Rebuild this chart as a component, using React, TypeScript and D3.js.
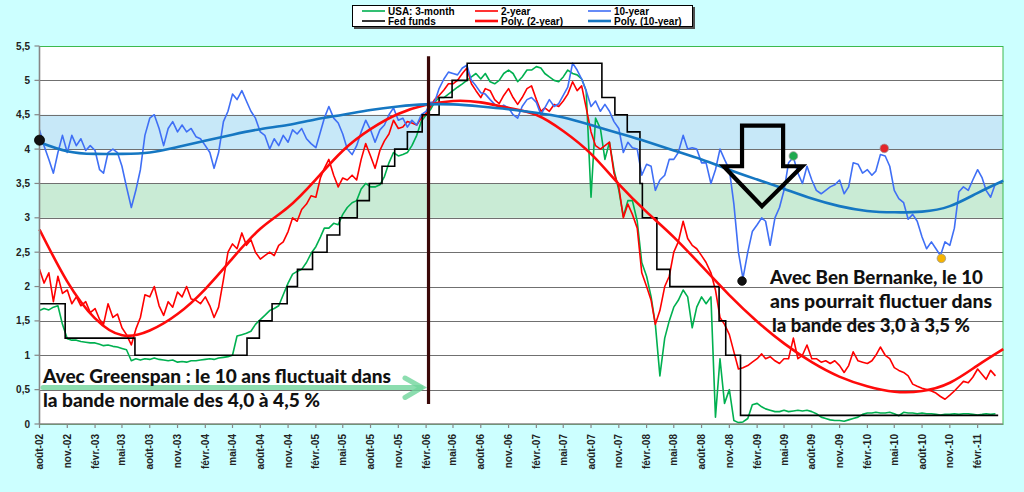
import React, { useRef, useEffect } from "react";
import * as d3 from "d3";

// Semi-monthly samples (1st and 16th of each month), starting août-02
const bill3m = [
  1.65, 1.68, 1.66, 1.7, 1.72, 1.45, 1.24, 1.22, 1.22, 1.2,
  1.19, 1.18, 1.18, 1.16, 1.14, 1.15, 1.13, 1.12, 1.1, 1.08,
  0.92, 0.95, 0.93, 0.95, 0.94, 0.96, 0.94, 0.93, 0.92, 0.93,
  0.9, 0.91, 0.9, 0.92, 0.92, 0.93, 0.94, 0.95, 0.94, 0.96,
  0.97, 0.98, 1.0, 1.28, 1.3, 1.32, 1.35, 1.45, 1.52, 1.58,
  1.65, 1.68, 1.72, 1.88, 2.05, 2.18, 2.22, 2.25, 2.35, 2.48,
  2.58, 2.72, 2.85, 2.85, 2.92, 2.9, 3.05, 3.15, 3.22, 3.25,
  3.42, 3.5, 3.45, 3.45, 3.48, 3.6, 3.8, 3.95, 3.9, 3.92,
  3.95, 4.05, 4.2, 4.4, 4.5, 4.58, 4.68, 4.75, 4.75, 4.8,
  4.85, 4.9, 4.95, 5.0, 5.05, 5.1, 5.02, 5.1, 4.98, 4.95,
  5.0, 5.1, 5.15, 5.1, 4.98, 5.05, 5.15, 5.15, 5.2, 5.18,
  5.1, 5.05, 5.0, 4.98, 5.05, 5.15, 5.1, 5.08, 5.02, 4.85,
  3.3, 4.45, 4.3, 3.85, 4.1, 3.7, 3.4, 3.02, 3.25, 3.25,
  2.95, 2.35, 2.15, 1.85, 1.45, 0.7, 1.25, 1.5, 1.7, 1.8,
  1.95, 1.85, 1.4, 1.7, 1.85, 1.75, 1.85, 0.1, 0.95, 0.3,
  0.5, 0.05, 0.02, 0.03, 0.08, 0.28, 0.3, 0.25, 0.22, 0.2,
  0.18, 0.18, 0.2, 0.18, 0.19, 0.2, 0.19, 0.2, 0.18, 0.15,
  0.1, 0.08, 0.06, 0.05, 0.05, 0.04, 0.06, 0.08, 0.1, 0.14,
  0.16, 0.16, 0.17, 0.16, 0.16, 0.17, 0.15, 0.12, 0.17, 0.16,
  0.16, 0.15, 0.16, 0.15, 0.15, 0.14, 0.13, 0.14, 0.14, 0.15,
  0.14, 0.15, 0.15, 0.14, 0.13, 0.14, 0.15, 0.14, 0.15,
];

const note2y = [
  2.25, 2.05, 2.2, 1.78, 2.15, 1.9, 1.95, 1.75, 1.85, 1.72,
  1.78, 1.62, 1.68, 1.52, 1.45, 1.75, 1.55, 1.6, 1.4, 1.3,
  1.15, 1.38, 1.55, 1.88, 1.85, 2.0, 1.72, 1.58, 1.78, 1.7,
  1.92, 1.85, 2.0, 1.82, 1.8, 1.75, 1.85, 1.72, 1.55, 1.7,
  2.1, 2.5, 2.62, 2.55, 2.78, 2.6, 2.68, 2.5, 2.4, 2.45,
  2.5, 2.45, 2.6, 2.65, 2.8, 3.0, 2.95, 3.12, 3.2, 3.32,
  3.3, 3.58, 3.72, 3.85, 3.62, 3.45, 3.58, 3.55, 3.62, 3.55,
  3.85, 4.08, 3.9, 3.72, 3.98, 4.12, 4.22, 4.42, 4.3, 4.32,
  4.4, 4.38, 4.35, 4.45, 4.52, 4.62, 4.72, 4.78, 4.86, 4.95,
  4.95, 5.0, 5.1, 5.18, 4.95, 4.85, 4.75, 4.88, 4.85, 4.72,
  4.66, 4.78, 4.88, 4.75, 4.65, 4.75, 4.88, 4.92, 4.72, 4.55,
  4.6, 4.55, 4.65, 4.62, 4.7, 4.8, 4.98, 4.85, 4.92, 4.6,
  4.25, 4.05, 4.0, 4.05, 4.1, 3.65, 3.45, 3.0, 3.2, 3.05,
  2.85, 2.2, 2.0, 1.8, 1.45, 1.65, 2.0, 2.15, 2.5, 2.65,
  2.95, 2.7, 2.6, 2.55, 2.45, 2.35, 2.2, 1.95, 1.55, 1.45,
  1.3, 1.05, 0.8, 0.82, 0.85, 0.9, 0.95, 1.02, 0.95, 0.98,
  0.92, 0.88, 0.95, 0.95, 1.25, 0.95, 1.0, 1.15, 0.95, 0.95,
  0.9, 0.92, 0.88, 0.92, 0.85, 0.75, 0.85, 1.05, 0.92, 0.9,
  0.88, 0.92, 1.0, 1.12, 1.0, 0.95, 0.82, 0.78, 0.75, 0.7,
  0.58, 0.55, 0.52, 0.5, 0.48, 0.45, 0.4, 0.36, 0.42, 0.48,
  0.55, 0.62, 0.6, 0.68, 0.8, 0.72, 0.65, 0.78, 0.7,
];

const note10y = [
  4.28, 4.05, 3.85, 3.65, 3.95, 4.2, 3.95, 4.2, 4.05, 4.15,
  3.98, 4.05, 3.98, 3.7, 3.65, 3.95, 4.0, 3.95, 3.75, 3.45,
  3.15, 3.4, 3.7, 4.2, 4.45, 4.5, 4.3, 4.05, 4.3, 4.4,
  4.25, 4.35, 4.25, 4.3, 4.18, 4.15, 4.05, 3.95, 3.72, 3.95,
  4.4, 4.55, 4.8, 4.72, 4.85, 4.7, 4.55, 4.45, 4.25, 4.2,
  4.0, 4.15, 4.05, 4.2, 4.1, 4.28, 4.22, 4.3, 4.15, 4.08,
  4.02, 4.25, 4.45, 4.62, 4.45, 4.38, 4.22, 4.0, 3.92, 4.05,
  4.25, 4.42, 4.28, 4.1, 4.28, 4.35, 4.5, 4.6, 4.42, 4.45,
  4.32, 4.42, 4.35, 4.5, 4.55, 4.68, 4.68, 4.88, 5.02, 5.12,
  5.1, 5.08, 5.18, 5.22, 5.0, 4.92, 4.82, 4.8, 4.72, 4.65,
  4.6, 4.64, 4.6, 4.5, 4.45, 4.62, 4.72, 4.75, 4.68, 4.5,
  4.6, 4.72, 4.62, 4.66, 4.78, 4.9, 5.25, 5.15, 5.02, 4.85,
  4.62, 4.7, 4.55, 4.65, 4.55, 4.4, 4.3, 3.95, 4.1, 4.02,
  4.0, 3.62, 3.78, 3.75, 3.4, 3.55, 3.62, 3.85, 3.85, 3.95,
  4.2, 4.0, 4.02, 4.0, 3.8, 3.8, 3.5, 3.7, 4.0, 3.85,
  3.7, 3.2, 2.5, 2.12, 2.5, 2.8, 2.9, 3.0, 2.95, 2.6,
  3.0, 3.15, 3.4, 3.8, 3.88, 3.65, 3.5, 3.75, 3.55, 3.4,
  3.35, 3.4, 3.45, 3.48, 3.55, 3.35, 3.45, 3.8, 3.78, 3.65,
  3.7, 3.62, 3.68, 3.92, 3.9, 3.75, 3.4, 3.28, 3.22, 2.98,
  3.05, 2.95, 2.72, 2.55, 2.65, 2.55, 2.45, 2.65, 2.6, 2.85,
  3.38, 3.45, 3.4, 3.55, 3.7, 3.58, 3.4, 3.3, 3.5,
];

// Fed funds target, dates of each change as placed on the chart
const fedDates = [
  "2002-08-01", "2002-10-25", "2003-06-13", "2004-06-18", "2004-07-29",
  "2004-09-09", "2004-10-29", "2004-12-02", "2005-01-21", "2005-03-10",
  "2005-04-21", "2005-06-18", "2005-07-28", "2005-09-08", "2005-10-20",
  "2005-12-01", "2006-01-19", "2006-03-16", "2006-04-28", "2006-06-17",
  "2007-09-06", "2007-10-19", "2007-11-29", "2008-01-10", "2008-01-18",
  "2008-03-06", "2008-04-18", "2008-09-28", "2008-10-20", "2008-12-08",
  "2011-04-10",
];
const fedRates = [
  1.75, 1.25, 1.0, 1.25, 1.5, 1.75, 2.0, 2.25, 2.5, 2.75,
  3.0, 3.25, 3.5, 3.75, 4.0, 4.25, 4.5, 4.75, 5.0, 5.25,
  4.75, 4.5, 4.25, 3.5, 3.0, 2.25, 2.0, 1.5, 1.0, 0.125,
  0.125,
];

// Polynomial trendlines read every quarter (months after août-02)
const polyMonths = [
  0, 3, 6, 9, 12, 15, 18, 21, 24, 27, 30, 33, 36, 39, 42, 45, 48, 51,
  54, 57, 60, 63, 66, 69, 72, 75, 78, 81, 84, 87, 90, 93, 96, 99, 102, 104.84,
];
const poly2y = [
  2.83, 2.08, 1.54, 1.29, 1.36, 1.6, 1.96, 2.41, 2.84, 3.15, 3.55, 3.98,
  4.29, 4.51, 4.64, 4.7, 4.68, 4.6, 4.5, 4.26, 3.93, 3.49, 3.09, 2.72,
  2.3, 1.88, 1.5, 1.17, 0.9, 0.69, 0.55, 0.47, 0.48, 0.6, 0.85, 1.09,
];
const poly10y = [
  4.1, 3.97, 3.93, 3.93, 3.95, 4.03, 4.12, 4.21, 4.29, 4.35, 4.43, 4.5,
  4.57, 4.62, 4.65, 4.65, 4.62, 4.58, 4.53, 4.46, 4.35, 4.23, 4.11, 3.98,
  3.85, 3.7, 3.56, 3.42, 3.28, 3.17, 3.1, 3.08, 3.09, 3.17, 3.36, 3.54,
];

const yTicks = [0, 0.5, 1, 1.5, 2, 2.5, 3, 3.5, 4, 4.5, 5, 5.5];

// highlighted 10-year points: month after août-02, value, colour
const markMonths = [0, 76.4, 82.0, 91.9, 98.1];
const markValues = [4.13, 2.08, 3.9, 4.01, 2.41];
const markColors = ["#111111", "#111111", "#1faa4f", "#e3262b", "#f6b300"];

const C3M = "#00b050";
const C2Y = "#ff0000";
const C10Y = "#3f6ff5";
const CFED = "#000000";
const CP2 = "#ff0a0a";
const CP10 = "#1577c2";

const frLocale = d3.timeFormatLocale({
  dateTime: "%A %e %B %Y à %X",
  date: "%d/%m/%Y",
  time: "%H:%M:%S",
  periods: ["AM", "PM"],
  days: ["dimanche", "lundi", "mardi", "mercredi", "jeudi", "vendredi", "samedi"],
  shortDays: ["dim.", "lun.", "mar.", "mer.", "jeu.", "ven.", "sam."],
  months: ["janvier", "février", "mars", "avril", "mai", "juin", "juillet", "août", "septembre", "octobre", "novembre", "décembre"],
  shortMonths: ["janv.", "févr.", "mars", "avr.", "mai", "juin", "juil.", "août", "sept.", "oct.", "nov.", "déc."],
});

const start = new Date(2002, 7, 1);
const sampleDate = (i: number) => new Date(2002, 7 + Math.floor(i / 2), i % 2 ? 16 : 1);
const monthDate = (m: number) => d3.timeDay.offset(start, Math.round(m * 30.44));

const App: React.FC = () => {
  const svgRef = useRef<SVGSVGElement>(null);

  useEffect(() => {
    if (!svgRef.current) return;
    const svg = d3.select(svgRef.current);
    svg.selectAll("*").remove();

    const left = 39.5;
    const right = 1003;
    const top = 46;
    const bottom = 424;

    const x = d3.scaleTime().domain([start, new Date(2011, 3, 26)]).range([left, right]);
    const y = d3.scaleLinear().domain([0, 5.5]).range([bottom, top]);

    // background
    svg.append("rect").attr("width", 1024).attr("height", 492).attr("fill", "#ccffff");
    svg.append("rect")
      .attr("x", left).attr("y", top)
      .attr("width", right - left).attr("height", bottom - top)
      .attr("fill", "#ffffff");

    // bands
    svg.append("rect")
      .attr("x", left).attr("y", y(4.5))
      .attr("width", right - left).attr("height", y(4) - y(4.5))
      .attr("fill", "#c7e8f8");
    svg.append("rect")
      .attr("x", left).attr("y", y(3.5))
      .attr("width", right - left).attr("height", y(3) - y(3.5))
      .attr("fill", "#c9ebd5");

    // grid
    svg.append("g")
      .selectAll("line")
      .data(yTicks.filter((t) => t > 0 && t < 5.5))
      .enter()
      .append("line")
      .attr("x1", left).attr("x2", right)
      .attr("y1", (d) => Math.round(y(d)) + 0.5)
      .attr("y2", (d) => Math.round(y(d)) + 0.5)
      .attr("stroke", "#707070")
      .attr("stroke-width", 1);

    // plot border (green)
    svg.append("rect")
      .attr("x", left).attr("y", top + 0.5)
      .attr("width", right - left).attr("height", bottom - top)
      .attr("fill", "none")
      .attr("stroke", "#3cb94e")
      .attr("stroke-width", 1);

    const lineGen = d3
      .line<number>()
      .x((_d, i) => x(sampleDate(i)))
      .y((d) => y(d));

    const drawSeries = (vals: number[], color: string, w: number) =>
      svg.append("path")
        .datum(vals)
        .attr("fill", "none")
        .attr("stroke", color)
        .attr("stroke-width", w)
        .attr("stroke-linejoin", "round")
        .attr("d", lineGen);

    drawSeries(bill3m, C3M, 1.6);
    drawSeries(note2y, C2Y, 1.6);
    drawSeries(note10y, C10Y, 1.6);

    // fed funds step line
    const parse = d3.timeParse("%Y-%m-%d");
    const fed = fedDates.map((d, i) => ({ date: parse(d) as Date, rate: fedRates[i] }));
    const stepLine = d3
      .line<{ date: Date; rate: number }>()
      .x((d) => x(d.date))
      .y((d) => y(d.rate))
      .curve(d3.curveStepAfter);
    svg.append("path")
      .datum(fed)
      .attr("fill", "none")
      .attr("stroke", CFED)
      .attr("stroke-width", 1.6)
      .attr("d", stepLine);

    // trendlines
    const polyLine = (vals: number[]) =>
      d3
        .line<number>()
        .x((_d, i) => x(monthDate(polyMonths[i])))
        .y((d) => y(d))
        .curve(d3.curveNatural)(vals);
    svg.append("path")
      .attr("d", polyLine(poly2y))
      .attr("fill", "none")
      .attr("stroke", CP2)
      .attr("stroke-width", 2.6);
    svg.append("path")
      .attr("d", polyLine(poly10y))
      .attr("fill", "none")
      .attr("stroke", CP10)
      .attr("stroke-width", 2.6);

    // Bernanke start
    svg.append("line")
      .attr("x1", x(new Date(2006, 1, 9))).attr("x2", x(new Date(2006, 1, 9)))
      .attr("y1", y(5.35)).attr("y2", y(0.29))
      .attr("stroke", "#3a0808")
      .attr("stroke-width", 3.2);

    // axes
    svg.append("line")
      .attr("x1", left).attr("x2", left).attr("y1", top).attr("y2", bottom)
      .attr("stroke", "#868686").attr("stroke-width", 1.6);
    svg.append("line")
      .attr("x1", left).attr("x2", right).attr("y1", bottom).attr("y2", bottom)
      .attr("stroke", "#868686").attr("stroke-width", 1.6);

    const yAxis = svg.append("g");
    yTicks.forEach((t) => {
      yAxis.append("line")
        .attr("x1", left - 5).attr("x2", left)
        .attr("y1", y(t)).attr("y2", y(t))
        .attr("stroke", "#868686").attr("stroke-width", 1.2);
      yAxis.append("text")
        .attr("x", 30).attr("y", y(t))
        .attr("dy", "0.35em")
        .attr("text-anchor", "end")
        .attr("font-family", "'Liberation Sans', Arial, sans-serif")
        .attr("font-weight", "bold")
        .attr("font-size", 10)
        .attr("fill", "#222")
        .text(String(t).replace(".", ","));
    });

    const fmt = frLocale.format("%b-%y");
    const xTicks = d3.timeMonth.range(start, new Date(2011, 1, 2), 3);
    const xAxis = svg.append("g");
    xTicks.forEach((t) => {
      xAxis.append("line")
        .attr("x1", x(t)).attr("x2", x(t))
        .attr("y1", bottom).attr("y2", bottom + 4)
        .attr("stroke", "#868686").attr("stroke-width", 1.2);
      xAxis.append("text")
        .attr("transform", `translate(${x(t)},${bottom + 10}) rotate(-90)`)
        .attr("dy", "0.35em")
        .attr("text-anchor", "end")
        .attr("font-family", "'Liberation Sans', Arial, sans-serif")
        .attr("font-weight", "bold")
        .attr("font-size", 10)
        .attr("fill", "#222")
        .text(fmt(t));
    });

    // highlighted points
    svg.append("g")
      .selectAll("circle")
      .data(markMonths)
      .enter()
      .append("circle")
      .attr("cx", (d) => x(monthDate(d)))
      .attr("cy", (_d, i) => y(markValues[i]))
      .attr("r", (_d, i) => (i === 0 ? 5 : 4.3))
      .attr("fill", (_d, i) => markColors[i])
      .attr("stroke", (_d, i) => (i < 2 ? "#000" : "#9a9a9a"))
      .attr("stroke-width", 0.8);

    // big hollow arrow (in chart coordinates)
    const arrowPts: [number, number][] = [
      [76.41, 4.34], [80.87, 4.34], [80.87, 3.75], [82.94, 3.75],
      [78.58, 3.17], [74.41, 3.75], [76.41, 3.75],
    ];
    svg.append("path")
      .attr("d", d3.line<[number, number]>()
        .x((d) => x(monthDate(d[0])))
        .y((d) => y(d[1]))(arrowPts) + "Z")
      .attr("fill", "none")
      .attr("stroke", "#000")
      .attr("stroke-width", 4.2)
      .attr("stroke-linejoin", "miter");

    // green arrow (Greenspan)
    const ga = svg.append("g")
      .attr("stroke", "#6fd49b")
      .attr("stroke-opacity", 0.8)
      .attr("stroke-width", 5)
      .attr("stroke-linecap", "round")
      .attr("fill", "none");
    ga.append("line").attr("x1", 43).attr("x2", 421).attr("y1", 387.5).attr("y2", 387.5);
    ga.append("path").attr("d", "M405,378 L422,387.5 L405,397.5");

    // annotation texts
    const note = (txt: string, tx: number, ty: number, len: number) =>
      svg.append("text")
        .attr("x", tx).attr("y", ty)
        .attr("font-family", "Lato, 'Open Sans', sans-serif")
        .attr("font-weight", 900)
        .attr("font-size", 19.5)
        .attr("fill", "#111")
        .attr("textLength", len)
        .attr("lengthAdjust", "spacingAndGlyphs")
        .text(txt);
    note("Avec Greenspan : le 10 ans fluctuait dans", 43, 383, 348);
    note("la bande normale des 4,0 à 4,5 %", 43, 406.5, 277);
    note("Avec Ben Bernanke, le 10", 770, 284, 213);
    note("ans pourrait fluctuer dans", 770, 308, 222);
    note("la bande des 3,0 à 3,5 %", 772, 332, 198);

    // legend
    const lg = svg.append("g");
    lg.append("rect").attr("x", 354).attr("y", 7).attr("width", 341).attr("height", 22).attr("fill", "#505050");
    lg.append("rect").attr("x", 352.5).attr("y", 5.5).attr("width", 340).attr("height", 21)
      .attr("fill", "#fff").attr("stroke", "#000").attr("stroke-width", 1);
    const items = [
      { label: "USA: 3-month", color: C3M, w: 1.6, col: 0, row: 0 },
      { label: "2-year", color: C2Y, w: 1.6, col: 1, row: 0 },
      { label: "10-year", color: C10Y, w: 1.6, col: 2, row: 0 },
      { label: "Fed funds", color: CFED, w: 1.6, col: 0, row: 1 },
      { label: "Poly. (2-year)", color: CP2, w: 2.6, col: 1, row: 1 },
      { label: "Poly. (10-year)", color: CP10, w: 2.6, col: 2, row: 1 },
    ];
    items.forEach((it) => {
      const lx = 362 + it.col * 113;
      const ly = 11 + it.row * 10;
      lg.append("line")
        .attr("x1", lx).attr("x2", lx + 23)
        .attr("y1", ly).attr("y2", ly)
        .attr("stroke", it.color).attr("stroke-width", it.w);
      lg.append("text")
        .attr("x", lx + 26).attr("y", ly)
        .attr("dy", "0.35em")
        .attr("font-family", "'Liberation Sans', Arial, sans-serif")
        .attr("font-weight", "bold")
        .attr("font-size", 10)
        .attr("fill", "#000")
        .text(it.label);
    });
  }, []);

  return (
    <svg
      ref={svgRef}
      width={1024}
      height={492}
      style={{ position: "absolute", left: 0, top: 0, display: "block" }}
    ></svg>
  );
};

export default App;
